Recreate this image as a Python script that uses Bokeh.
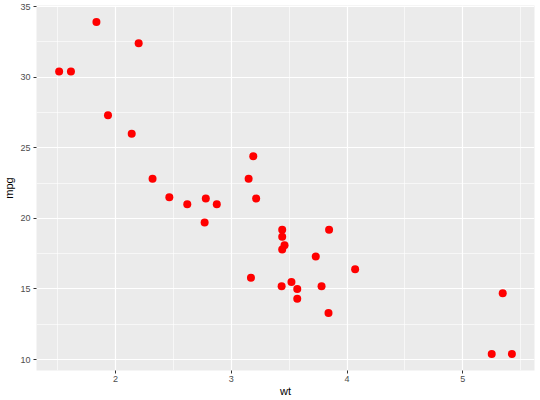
from bokeh.plotting import figure
from bokeh.models import FixedTicker, Range1d, ColumnDataSource
from bokeh.embed import file_html
from bokeh.resources import INLINE

wt = [2.620, 2.875, 2.320, 3.215, 3.440, 3.460, 3.570, 3.190, 3.150, 3.440, 3.440,
      4.070, 3.730, 3.780, 5.250, 5.424, 5.345, 2.200, 1.615, 1.835, 2.465, 3.520,
      3.435, 3.840, 3.845, 1.935, 2.140, 1.513, 3.170, 2.770, 3.570, 2.780]
mpg = [21.0, 21.0, 22.8, 21.4, 18.7, 18.1, 14.3, 24.4, 22.8, 19.2, 17.8,
       16.4, 17.3, 15.2, 10.4, 10.4, 14.7, 32.4, 30.4, 33.9, 21.5, 15.5,
       15.2, 13.3, 19.2, 27.3, 26.0, 30.4, 15.8, 19.7, 15.0, 21.4]
x_ticks = [2, 3, 4, 5]
x_minor = [1.5, 2.5, 3.5, 4.5, 5.5]
y_ticks = [10, 15, 20, 25, 30, 35]
y_minor = [12.5, 17.5, 22.5, 27.5, 32.5]

src = ColumnDataSource(dict(wt=wt, mpg=mpg))

xr = max(wt) - min(wt)
yr = max(mpg) - min(mpg)
p = figure(width=540, height=400, output_backend="svg", toolbar_location=None,
           x_range=Range1d(min(wt) - 0.05 * xr, max(wt) + 0.05 * xr),
           y_range=Range1d(min(mpg) - 0.05 * yr, max(mpg) + 0.05 * yr),
           min_border_left=36, min_border_right=6, min_border_top=5, min_border_bottom=30)

p.background_fill_color = "#EBEBEB"
p.border_fill_color = "white"
p.outline_line_color = None

p.xaxis.ticker = FixedTicker(ticks=x_ticks, minor_ticks=x_minor)
p.yaxis.ticker = FixedTicker(ticks=y_ticks, minor_ticks=y_minor)

for g in (p.xgrid[0], p.ygrid[0]):
    g.grid_line_color = "white"
    g.grid_line_width = 1.2
    g.minor_grid_line_color = "white"
    g.minor_grid_line_width = 0.6

for ax in (p.xaxis[0], p.yaxis[0]):
    ax.axis_line_color = None
    ax.major_tick_in = 0
    ax.major_tick_out = 3
    ax.major_tick_line_color = "#333333"
    ax.minor_tick_line_color = None
    ax.major_label_text_color = "#4D4D4D"
    ax.major_label_text_font = "Liberation Sans"
    ax.major_label_text_font_size = "9px"
    ax.major_label_standoff = 2
    ax.axis_label_text_font = "Liberation Sans"
    ax.axis_label_text_font_size = "11px"
    ax.axis_label_text_font_style = "normal"
    ax.axis_label_text_color = "black"
    ax.axis_label_standoff = 2

p.xaxis[0].major_label_standoff = 1
p.xaxis[0].axis_label_standoff = 0

p.xaxis.axis_label = "wt"
p.yaxis.axis_label = "mpg"

p.scatter("wt", "mpg", source=src, size=8, color="red", line_color=None)

open("out.html", "w").write(file_html(p, INLINE))
